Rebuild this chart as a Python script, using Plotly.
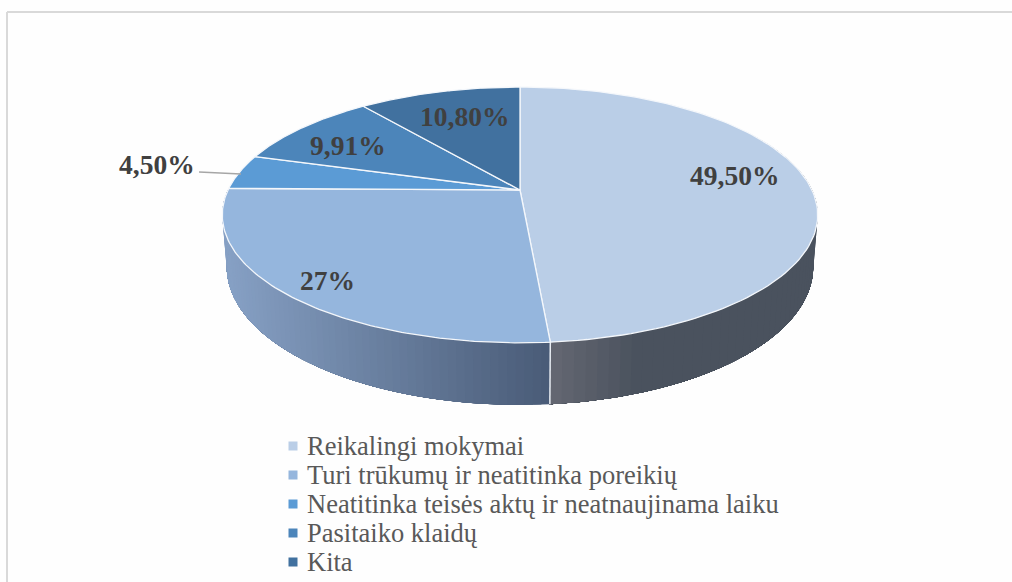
import numpy as np
import plotly.graph_objects as go

categories = ["Reikalingi mokymai", "Turi trūkumų ir neatitinka poreikių",
              "Neatitinka teisės aktų ir neatnaujinama laiku", "Pasitaiko klaidų", "Kita"]
values = [49.5, 27, 4.5, 9.91, 10.8]
value_labels = ["49,50%", "27%", "4,50%", "9,91%", "10,80%"]
colors = ["#BACEE7", "#95B6DD", "#5B9BD5", "#4C85BA", "#41719F"]

# tilted-disc projection (pixel-unit axes)
CX, CY, A, B, K, DEPTH, LOW_SCALE = 520.0, 190.0, 292.0, 123.0, 0.195, 50.0, 0.985
label_xy = [(734, 175), (327, 280), (157, 164), (348, 145), (464, 116)]
leader_xy = ([199, 241], [172, 174])
legend_rows = [446, 475, 504, 533, 562]
legend_marker_x, legend_text_x = 293, 305


def project(theta, low=False):
    s, c = np.sin(theta), np.cos(theta)
    w = 1 + K * c
    x = CX + A * s / w * (LOW_SCALE if low else 1)
    y = CY - B * c / w + (DEPTH / w if low else 0)
    return x, y


def lerp(c0, c1, t):
    t = min(max(t, 0), 1)
    return "rgb(%d,%d,%d)" % tuple(round(a + (b - a) * t) for a, b in zip(c0, c1))


fractions = np.array(values) / sum(values)
edges = np.concatenate([[0], np.cumsum(fractions)]) * 2 * np.pi

fig = go.Figure()


# side wall: painted from one end, each strip covering the rest of the wall
def add_wall(t0, t1, n, shade):
    starts = np.linspace(t0, t1, n + 1)[:-1]
    for a in starts:
        th = np.linspace(a, t1, 80)
        xt, yt = project(th)
        xb, yb = project(th[::-1], True)
        col = shade(project(a)[0])
        fig.add_trace(go.Scatter(x=np.r_[xt, xb, xt[0]], y=np.r_[yt, yb, yt[0]], mode="lines",
                                 fill="toself", fillcolor=col, line=dict(width=0),
                                 hoverinfo="skip", showlegend=False))


add_wall(np.pi / 3, edges[1], 60,
         lambda x: lerp((102, 105, 115), (74, 82, 94), (x - 552) / 90))
add_wall(edges[1], edges[2], 70,
         lambda x: lerp((134, 160, 196), (74, 92, 120), (x - 228) / 322))

# separator on the wall at the slice boundary
sx0, sy0 = project(edges[1])
sx1, sy1 = project(edges[1], True)
fig.add_trace(go.Scatter(x=[sx0, sx1], y=[sy0, sy1], mode="lines", line=dict(color="#E8ECF2", width=1.5),
                         hoverinfo="skip", showlegend=False))

# top faces
for i, cat in enumerate(categories):
    th = np.linspace(edges[i], edges[i + 1], 120)
    x, y = project(th)
    fig.add_trace(go.Scatter(x=np.r_[CX, x, CX], y=np.r_[CY, y, CY], mode="lines", fill="toself",
                             fillcolor=colors[i], line=dict(color="#F4F7FB", width=1.3),
                             name=cat, text=value_labels[i], hoverinfo="name+text", showlegend=False))

# legend swatches and texts
for cat, col, ry in zip(categories, colors, legend_rows):
    fig.add_trace(go.Scatter(x=[legend_marker_x], y=[ry], mode="markers", name=cat, hoverinfo="name",
                             marker=dict(symbol="square", size=9, color=col), showlegend=False))
    fig.add_annotation(x=legend_text_x, y=ry, text=cat, showarrow=False, xanchor="left", yanchor="middle",
                       font=dict(family="Liberation Serif", size=26.5, color="#595959"))

# leader line
fig.add_trace(go.Scatter(x=leader_xy[0], y=leader_xy[1], mode="lines", line=dict(color="#A6A6A6", width=1.5),
                         hoverinfo="skip", showlegend=False))

for txt, (lx, ly) in zip(value_labels, label_xy):
    fig.add_annotation(x=lx, y=ly, text="<b>%s</b>" % txt, showarrow=False,
                       font=dict(family="Liberation Serif", size=27.5, color="#404040"))

fig.update_layout(
    width=1012, height=582, margin=dict(l=0, r=0, t=0, b=0), showlegend=False,
    paper_bgcolor="#FEFEFE", plot_bgcolor="#FEFEFE",
    xaxis=dict(range=[0, 1012], visible=False, fixedrange=True),
    yaxis=dict(range=[582, 0], visible=False, fixedrange=True),
    shapes=[
        dict(type="line", xref="x", yref="y", x0=7, x1=1012, y0=12, y1=12, line=dict(color="#D9D9D9", width=2)),
        dict(type="line", xref="x", yref="y", x0=7, x1=7, y0=12, y1=582, line=dict(color="#D9D9D9", width=2)),
    ],
)
fig.write_html("out.html", config={"displayModeBar": False}, post_script="document.body.style.margin='0';")
